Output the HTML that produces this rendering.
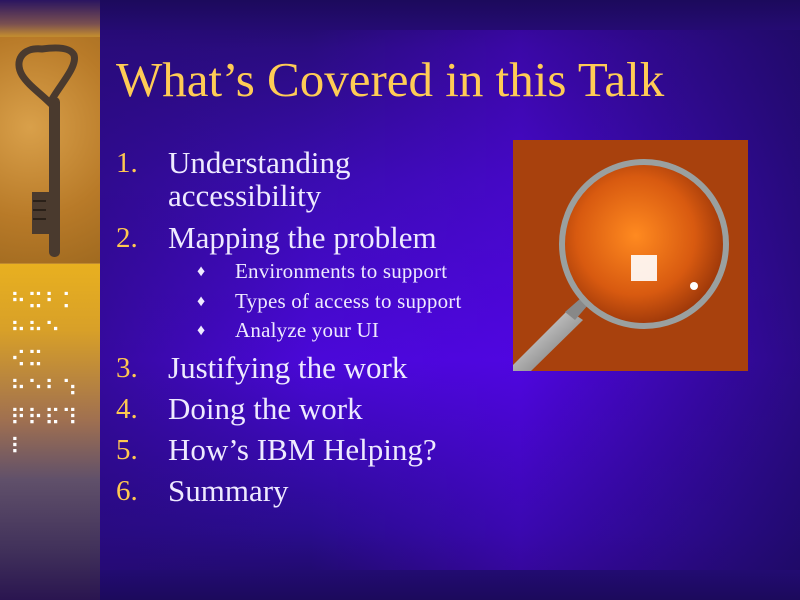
<!DOCTYPE html>
<html><head><meta charset="utf-8"><style>
body{margin:0;width:800px;height:600px;overflow:hidden;background:#1c0a5c;position:relative;font-family:"Liberation Serif",serif}
.abs{position:absolute}
.t{position:absolute;color:#eeeaff;font-size:31px;line-height:1;white-space:nowrap}
.n{position:absolute;color:#ffc850;font-size:29px;line-height:1}
.s{position:absolute;color:#eeeaff;font-size:21px;letter-spacing:0.2px;line-height:1;white-space:nowrap}
.d{position:absolute;color:#eeeaff;font-size:16px;line-height:1}
</style></head><body>
<div class="abs" style="left:100px;top:0;width:700px;height:600px;background:linear-gradient(180deg,#1c0a5c 0%,#2a0c80 8%,#3a0cb0 30%,#4a08d8 60%,#2a0c90 88%,#1c0a5c 100%)"></div>
<div class="abs" style="left:100px;top:30px;width:700px;height:540px;background:linear-gradient(90deg,rgba(40,10,120,0.6) 0%,rgba(70,0,210,0) 30%,rgba(90,0,240,0.35) 60%,rgba(30,10,100,0.7) 100%)"></div>
<div class="abs" style="left:0;top:0;width:100px;height:600px;background:linear-gradient(180deg,#2a1560 0%,#7a5050 4%,#c08a30 6%,#c08a30 44%,#e8b020 44%,#d8a028 55%,#a07050 70%,#60506a 80%,#40305a 92%,#2a1550 100%)"></div>
<div class="abs" style="left:0;top:37px;width:100px;height:226px;background:radial-gradient(circle at 30% 40%,#d9a04a,#b87a28 60%,#a06a20);overflow:hidden">
<svg width="100" height="226" viewBox="0 0 100 226">
<path d="M42 12 C22 10 14 24 22 38 C28 48 40 56 50 66 C58 50 78 30 74 18 C70 10 56 10 42 12 Z" fill="none" stroke="#4a3a2e" stroke-width="7"/>
<rect x="49" y="60" width="11" height="160" rx="5" fill="#4a3a2e"/>
<rect x="32" y="155" width="22" height="42" fill="#4a3a2e"/>
<rect x="33" y="163" width="13" height="2" fill="#2a2018"/><rect x="33" y="172" width="13" height="2" fill="#2a2018"/><rect x="33" y="181" width="13" height="2" fill="#2a2018"/></svg></div>
<div class="abs" style="left:10px;top:288px;color:#fff;font-size:22px;line-height:29px;letter-spacing:1px;font-family:'DejaVu Sans',sans-serif">⠓⠭⠃⠅<br>⠓⠓⠑<br>⠪⠭<br>⠓⠑⠃⠱<br>⠟⠗⠯⠹<br>⠇</div>
<div class="abs" style="left:116px;top:55px;color:#ffcc55;font-size:49px;line-height:1;white-space:nowrap">What’s Covered in this Talk</div>
<div class="n" style="left:116px;top:149px">1.</div>
<div class="t" style="left:168px;top:147px">Understanding</div>
<div class="t" style="left:168px;top:180px">accessibility</div>
<div class="n" style="left:116px;top:224px">2.</div>
<div class="t" style="left:168px;top:222px">Mapping the problem</div>
<div class="d" style="left:197px;top:264px">♦</div>
<div class="s" style="left:235px;top:261px">Environments to support</div>
<div class="d" style="left:197px;top:294px">♦</div>
<div class="s" style="left:235px;top:291px">Types of access to support</div>
<div class="d" style="left:197px;top:323px">♦</div>
<div class="s" style="left:235px;top:320px">Analyze your UI</div>
<div class="n" style="left:116px;top:354px">3.</div>
<div class="t" style="left:168px;top:352px">Justifying the work</div>
<div class="n" style="left:116px;top:395px">4.</div>
<div class="t" style="left:168px;top:393px">Doing the work</div>
<div class="n" style="left:116px;top:436px">5.</div>
<div class="t" style="left:168px;top:434px">How’s IBM Helping?</div>
<div class="n" style="left:116px;top:477px">6.</div>
<div class="t" style="left:168px;top:475px">Summary</div>
<svg class="abs" style="left:513px;top:140px" width="235" height="231" viewBox="0 0 235 231">
<defs><radialGradient id="lens" cx="0.45" cy="0.45" r="0.6"><stop offset="0" stop-color="#ff8a20"/><stop offset="0.6" stop-color="#d85a10"/><stop offset="1" stop-color="#903008"/></radialGradient>
<linearGradient id="hd" x1="0" y1="0" x2="1" y2="1"><stop offset="0" stop-color="#eee"/><stop offset="1" stop-color="#666"/></linearGradient></defs>
<rect width="235" height="231" fill="#b84a10"/>
<rect width="235" height="231" fill="#8a3008" opacity="0.35"/>
<path d="M0 225 L55 170 L70 180 L18 231 L0 231Z" fill="url(#hd)"/>
<path d="M52 172 L68 158 L75 165 L62 180Z" fill="#888"/>
<circle cx="131" cy="104" r="82" fill="url(#lens)" stroke="#9aa0a0" stroke-width="6"/>
<rect x="118" y="115" width="26" height="26" fill="#fff" opacity="0.9"/>
<circle cx="181" cy="146" r="4" fill="#fff"/>
</svg>
</body></html>
